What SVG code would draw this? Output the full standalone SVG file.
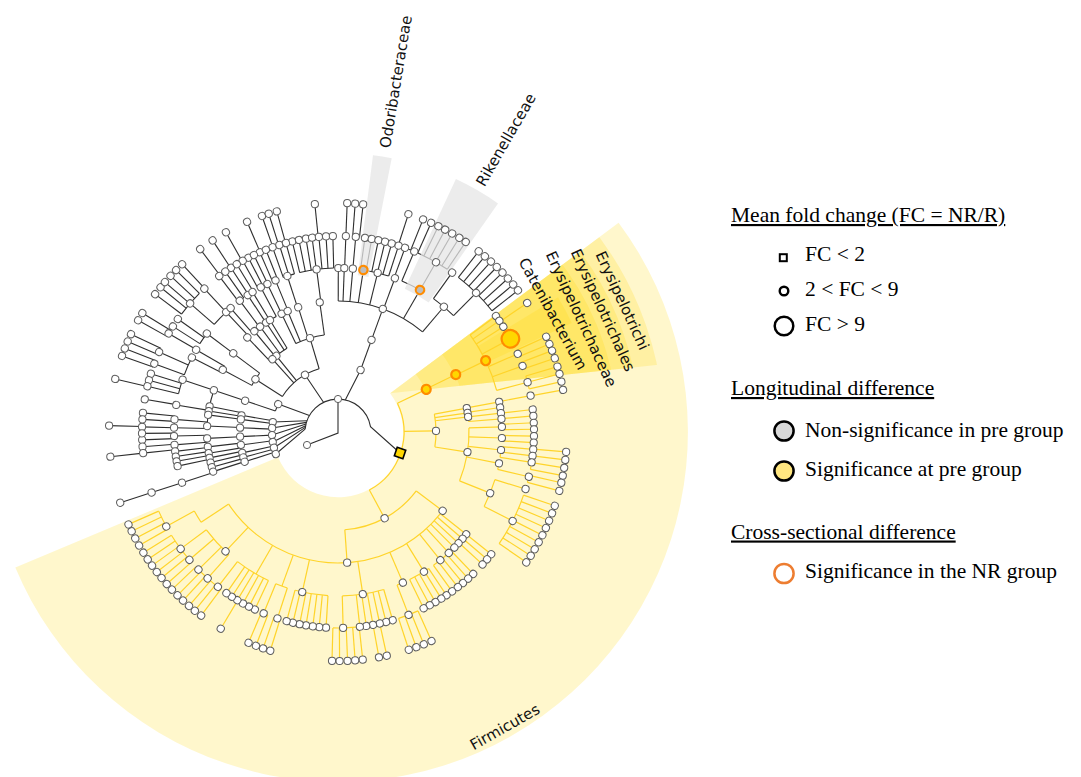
<svg xmlns="http://www.w3.org/2000/svg" width="1081" height="777" viewBox="0 0 1081 777">
<style>
.k{stroke:#2e2e2e;stroke-width:1.1;fill:none}
.y{stroke:#FFD42A;stroke-width:1.2;fill:none}
.nd{fill:#fff;stroke:#5e5e5e;stroke-width:1}
.lab{font-family:'DejaVu Sans',Verdana,sans-serif;font-size:15px;fill:#111}
.lg{font-family:'Liberation Serif','Times New Roman',serif;font-size:21.5px;fill:#000}
.sig{fill:#FFD700;stroke:#FF8C00;stroke-width:2.2}
.ns{fill:#BDBDBD;stroke:#FF8C00;stroke-width:2.2}
</style>
<defs>
<circle id="n1" cx="33" r="3.6"/><circle id="n2" cx="66" r="3.6"/><circle id="n3" cx="98" r="3.6"/><circle id="n4" cx="131" r="3.6"/><circle id="n5" cx="164" r="3.6"/><circle id="n6" cx="196" r="3.6"/><circle id="n7" cx="229" r="3.6"/>
<line id="l3" x1="66" x2="98"/><line id="l4" x1="98" x2="131"/><line id="l5" x1="131" x2="164"/><line id="l6" x1="164" x2="196"/><line id="l7" x1="196" x2="229"/>
<circle id="c2" r="66" pathLength="360" fill="none"/><circle id="c3" r="98" pathLength="360" fill="none"/><circle id="c4" r="131" pathLength="360" fill="none"/><circle id="c5" r="164" pathLength="360" fill="none"/><circle id="c6" r="196" pathLength="360" fill="none"/>
<clipPath id="ew"><polygon points="390.1,393.2 658.6,192.9 760,140 760,354.1"/></clipPath>
</defs>
<rect width="1081" height="777" fill="#fff"/>
<g id="backgrounds">
<path id="sector-firmicutes" d="M618.6,222.8A350,350 0 1 1 15.3,567.6L278.1,457.2A65,65 0 1 0 390.1,393.2Z" fill="#FFD700" fill-opacity=".2"/>
<g clip-path="url(#ew)"><g transform="translate(338,432)" fill="none" stroke="#FFD700" stroke-opacity=".2">
<circle r="195.5" stroke-width="261" pathLength="360" stroke-dasharray="35 360" transform="rotate(-40)"/>
<circle r="199.5" stroke-width="205" pathLength="360" stroke-dasharray="35 360" transform="rotate(-40)"/>
<circle r="205" stroke-width="150" pathLength="360" stroke-dasharray="35 360" transform="rotate(-40)"/>
<circle r="210.5" stroke-width="95" pathLength="360" stroke-dasharray="6.5 360" transform="rotate(-31.5)"/>
</g></g>
</g>
<g id="connectors">
<g class="k">
<path d="M305.1,429.1A33,33 0 0 1 370.5,426.6L400,453"/>
<path d="M345.4,399.8L360.6,370M323.5,402.3L305,374.8M309.4,415.5L278.2,404.1M307,420.7L272.8,422M306.4,422.4L272.1,428M306,424L272.1,435M305.6,425.7L272.8,442M305.3,427.4L273.9,447.7M305.1,429.1L275.8,454M338,399L338,433L307,445"/>
</g>
<g class="y" transform="translate(338,432)">
<use href="#c2" stroke-dasharray="87.4 360" transform="rotate(-25.8)"/>
<use href="#l3" transform="rotate(-25.8)"/><use href="#l3" transform="rotate(-0.6)"/><use href="#l3" transform="rotate(61.6)"/>
<use href="#c3" stroke-dasharray="19.3 360" transform="rotate(-10.5)"/><use href="#c3" stroke-dasharray="49 360" transform="rotate(37)"/>
<use href="#l4" transform="rotate(-26)"/><use href="#l4" transform="rotate(-10.5)"/><use href="#l4" transform="rotate(-8.4)"/><use href="#l4" transform="rotate(-6.6)"/><use href="#l4" transform="rotate(8.8)"/><use href="#l4" transform="rotate(37)"/><use href="#l4" transform="rotate(86)"/>
<use href="#c4" stroke-dasharray="2 360" transform="rotate(-6.6)"/><use href="#c4" stroke-dasharray="23.7 360" transform="rotate(-1.8)"/><use href="#c4" stroke-dasharray="108 360" transform="rotate(38.6)"/>
<use href="#l5" transform="rotate(-25.8)"/><use href="#l5" transform="rotate(-10.6)"/><use href="#l5" transform="rotate(-8.6)"/><use href="#l5" transform="rotate(-6.6)"/><use href="#l5" transform="rotate(-4.6)"/><use href="#l5" transform="rotate(-1.8)"/><use href="#l5" transform="rotate(2.1)"/><use href="#l5" transform="rotate(6.3)"/><use href="#l5" transform="rotate(11)"/><use href="#l5" transform="rotate(21.9)"/><use href="#l5" transform="rotate(38.6)"/><use href="#l5" transform="rotate(40.6)"/><use href="#l5" transform="rotate(42.7)"/><use href="#l5" transform="rotate(44.8)"/><use href="#l5" transform="rotate(47.5)"/><use href="#l5" transform="rotate(51.4)"/><use href="#l5" transform="rotate(58.4)"/><use href="#l5" transform="rotate(66.7)"/><use href="#l5" transform="rotate(81.3)"/><use href="#l5" transform="rotate(102.6)"/><use href="#l5" transform="rotate(110)"/><use href="#l5" transform="rotate(120)"/><use href="#l5" transform="rotate(133.3)"/><use href="#l5" transform="rotate(146.6)"/>
<use href="#c5" stroke-dasharray="21.6 360" transform="rotate(-36.3)"/><use href="#c5" stroke-dasharray="1.9 360" transform="rotate(-2.7)"/><use href="#c5" stroke-dasharray="1.9 360" transform="rotate(1.2)"/><use href="#c5" stroke-dasharray="3.8 360" transform="rotate(5.1)"/><use href="#c5" stroke-dasharray="2.2 360" transform="rotate(11)"/><use href="#c5" stroke-dasharray="10.1 360" transform="rotate(16.9)"/><use href="#c5" stroke-dasharray="8 360" transform="rotate(46.4)"/><use href="#c5" stroke-dasharray="7.7 360" transform="rotate(56.4)"/><use href="#c5" stroke-dasharray="2.2 360" transform="rotate(66.7)"/><use href="#c5" stroke-dasharray="14.7 360" transform="rotate(73.8)"/><use href="#c5" stroke-dasharray="11.7 360" transform="rotate(93.5)"/><use href="#c5" stroke-dasharray="4.3 360" transform="rotate(108)"/><use href="#c5" stroke-dasharray="12.7 360" transform="rotate(115.1)"/><use href="#c5" stroke-dasharray="11.7 360" transform="rotate(131.7)"/><use href="#c5" stroke-dasharray="4.6 360" transform="rotate(146.6)"/>
<use href="#l6" transform="rotate(-36.3)"/><use href="#l6" transform="rotate(-34.6)"/><use href="#l6" transform="rotate(-32.5)"/><use href="#l6" transform="rotate(-28.4)"/><use href="#l6" transform="rotate(-23.5)"/><use href="#l6" transform="rotate(-19.7)"/><use href="#l6" transform="rotate(-14.7)"/><use href="#l6" transform="rotate(-10.7)"/><use href="#l6" transform="rotate(-6.6)"/><use href="#l6" transform="rotate(-4.7)"/><use href="#l6" transform="rotate(-2.7)"/><use href="#l6" transform="rotate(-0.8)"/><use href="#l6" transform="rotate(1.2)"/><use href="#l6" transform="rotate(3.1)"/><use href="#l6" transform="rotate(5.1)"/><use href="#l6" transform="rotate(7)"/><use href="#l6" transform="rotate(8.9)"/><use href="#l6" transform="rotate(13.2)"/><use href="#l6" transform="rotate(16.9)"/><use href="#l6" transform="rotate(27)"/><use href="#l6" transform="rotate(38.6)"/><use href="#l6" transform="rotate(40.5)"/><use href="#l6" transform="rotate(42.5)"/><use href="#l6" transform="rotate(46.4)"/><use href="#l6" transform="rotate(48.4)"/><use href="#l6" transform="rotate(50.4)"/><use href="#l6" transform="rotate(52.3)"/><use href="#l6" transform="rotate(54.4)"/><use href="#l6" transform="rotate(56.4)"/><use href="#l6" transform="rotate(58.2)"/><use href="#l6" transform="rotate(60.2)"/><use href="#l6" transform="rotate(62.1)"/><use href="#l6" transform="rotate(64.1)"/><use href="#l6" transform="rotate(68.9)"/><use href="#l6" transform="rotate(73.8)"/><use href="#l6" transform="rotate(75.8)"/><use href="#l6" transform="rotate(77.7)"/><use href="#l6" transform="rotate(79.7)"/><use href="#l6" transform="rotate(81.7)"/><use href="#l6" transform="rotate(83.6)"/><use href="#l6" transform="rotate(88.5)"/><use href="#l6" transform="rotate(93.5)"/><use href="#l6" transform="rotate(95.5)"/><use href="#l6" transform="rotate(97.4)"/><use href="#l6" transform="rotate(99.4)"/><use href="#l6" transform="rotate(101.3)"/><use href="#l6" transform="rotate(103.3)"/><use href="#l6" transform="rotate(105.2)"/><use href="#l6" transform="rotate(108)"/><use href="#l6" transform="rotate(112.3)"/><use href="#l6" transform="rotate(115.1)"/><use href="#l6" transform="rotate(117)"/><use href="#l6" transform="rotate(119)"/><use href="#l6" transform="rotate(120.9)"/><use href="#l6" transform="rotate(122.8)"/><use href="#l6" transform="rotate(124.7)"/><use href="#l6" transform="rotate(127.8)"/><use href="#l6" transform="rotate(131.7)"/><use href="#l6" transform="rotate(135.4)"/><use href="#l6" transform="rotate(139.3)"/><use href="#l6" transform="rotate(143.4)"/><use href="#l6" transform="rotate(151.2)"/>
<use href="#c6" stroke-dasharray="2 360" transform="rotate(-24.6)"/><use href="#c6" stroke-dasharray="2 360" transform="rotate(-20.8)"/><use href="#c6" stroke-dasharray="3.9 360" transform="rotate(-16.6)"/><use href="#c6" stroke-dasharray="2.1 360" transform="rotate(8.9)"/><use href="#c6" stroke-dasharray="2.1 360" transform="rotate(12.8)"/><use href="#c6" stroke-dasharray="15.9 360" transform="rotate(18.8)"/><use href="#c6" stroke-dasharray="6.1 360" transform="rotate(65.9)"/><use href="#c6" stroke-dasharray="2 360" transform="rotate(77.7)"/><use href="#c6" stroke-dasharray="7.7 360" transform="rotate(83.8)"/><use href="#c6" stroke-dasharray="1.9 360" transform="rotate(107.2)"/><use href="#c6" stroke-dasharray="2 360" transform="rotate(111)"/><use href="#c6" stroke-dasharray="5 360" transform="rotate(126.7)"/><use href="#c6" stroke-dasharray="3.9 360" transform="rotate(132.5)"/><use href="#c6" stroke-dasharray="3.9 360" transform="rotate(138.4)"/><use href="#c6" stroke-dasharray="4.8 360" transform="rotate(143.4)"/><use href="#c6" stroke-dasharray="5.9 360" transform="rotate(150.3)"/>
<use href="#l7" transform="rotate(-34.3)"/><use href="#l7" transform="rotate(-24.6)"/><use href="#l7" transform="rotate(-22.6)"/><use href="#l7" transform="rotate(-20.8)"/><use href="#l7" transform="rotate(-18.8)"/><use href="#l7" transform="rotate(-16.6)"/><use href="#l7" transform="rotate(-14.7)"/><use href="#l7" transform="rotate(-12.7)"/><use href="#l7" transform="rotate(-10.6)"/><use href="#l7" transform="rotate(5)"/><use href="#l7" transform="rotate(7)"/><use href="#l7" transform="rotate(9)"/><use href="#l7" transform="rotate(11)"/><use href="#l7" transform="rotate(12.8)"/><use href="#l7" transform="rotate(14.9)"/><use href="#l7" transform="rotate(18.8)"/><use href="#l7" transform="rotate(20.8)"/><use href="#l7" transform="rotate(22.8)"/><use href="#l7" transform="rotate(24.8)"/><use href="#l7" transform="rotate(26.8)"/><use href="#l7" transform="rotate(28.8)"/><use href="#l7" transform="rotate(30.8)"/><use href="#l7" transform="rotate(32.7)"/><use href="#l7" transform="rotate(34.7)"/><use href="#l7" transform="rotate(65.9)"/><use href="#l7" transform="rotate(68)"/><use href="#l7" transform="rotate(70)"/><use href="#l7" transform="rotate(72)"/><use href="#l7" transform="rotate(77.7)"/><use href="#l7" transform="rotate(79.7)"/><use href="#l7" transform="rotate(83.8)"/><use href="#l7" transform="rotate(85.7)"/><use href="#l7" transform="rotate(87.6)"/><use href="#l7" transform="rotate(89.6)"/><use href="#l7" transform="rotate(91.5)"/><use href="#l7" transform="rotate(107.2)"/><use href="#l7" transform="rotate(109.1)"/><use href="#l7" transform="rotate(111)"/><use href="#l7" transform="rotate(113)"/><use href="#l7" transform="rotate(120.8)"/><use href="#l7" transform="rotate(126.7)"/><use href="#l7" transform="rotate(128.7)"/><use href="#l7" transform="rotate(130.6)"/><use href="#l7" transform="rotate(132.6)"/><use href="#l7" transform="rotate(134.5)"/><use href="#l7" transform="rotate(136.5)"/><use href="#l7" transform="rotate(138.4)"/><use href="#l7" transform="rotate(140.4)"/><use href="#l7" transform="rotate(142.3)"/><use href="#l7" transform="rotate(144.3)"/><use href="#l7" transform="rotate(146.2)"/><use href="#l7" transform="rotate(148.2)"/><use href="#l7" transform="rotate(150.3)"/><use href="#l7" transform="rotate(152.3)"/><use href="#l7" transform="rotate(154.3)"/><use href="#l7" transform="rotate(156.2)"/>
</g>
<g class="k" transform="translate(338,432)">
<use href="#l3" transform="rotate(290)"/><use href="#l4" transform="rotate(290)"/>
<use href="#c4" stroke-dasharray="40.1 360" transform="rotate(270.1)"/>
<use href="#l5" transform="rotate(270.1)"/><use href="#l5" transform="rotate(272.2)"/><use href="#l5" transform="rotate(275.2)"/><use href="#l5" transform="rotate(278.9)"/><use href="#l5" transform="rotate(284)"/><use href="#l5" transform="rotate(290.3)"/><use href="#l5" transform="rotate(300)"/><use href="#l5" transform="rotate(310.2)"/>
<use href="#c5" stroke-dasharray="1 360" transform="rotate(277.9)"/><use href="#c5" stroke-dasharray="8.1 360" transform="rotate(279.9)"/><use href="#c5" stroke-dasharray="7.1 360" transform="rotate(292.9)"/><use href="#c5" stroke-dasharray="9.2 360" transform="rotate(305.6)"/>
<use href="#l6" transform="rotate(272.3)"/><use href="#l6" transform="rotate(275.2)"/><use href="#l6" transform="rotate(277.9)"/><use href="#l6" transform="rotate(279.9)"/><use href="#l6" transform="rotate(281.9)"/><use href="#l6" transform="rotate(283.9)"/><use href="#l6" transform="rotate(285.9)"/><use href="#l6" transform="rotate(288)"/><use href="#l6" transform="rotate(290)"/><use href="#l6" transform="rotate(292.9)"/><use href="#l6" transform="rotate(300)"/><use href="#l6" transform="rotate(305.6)"/><use href="#l6" transform="rotate(314.8)"/>
<use href="#c6" stroke-dasharray="2 360" transform="rotate(274.3)"/><use href="#c6" stroke-dasharray="5 360" transform="rotate(287.9)"/><use href="#c6" stroke-dasharray="9.9 360" transform="rotate(294)"/><use href="#c6" stroke-dasharray="13.9 360" transform="rotate(307.9)"/>
<use href="#l7" transform="rotate(272.3)"/><use href="#l7" transform="rotate(274.3)"/><use href="#l7" transform="rotate(276.3)"/><use href="#l7" transform="rotate(287.9)"/><use href="#l7" transform="rotate(291.8)"/><use href="#l7" transform="rotate(294)"/><use href="#l7" transform="rotate(296)"/><use href="#l7" transform="rotate(297.9)"/><use href="#l7" transform="rotate(299.9)"/><use href="#l7" transform="rotate(302)"/><use href="#l7" transform="rotate(303.9)"/><use href="#l7" transform="rotate(307.9)"/><use href="#l7" transform="rotate(309.9)"/><use href="#l7" transform="rotate(311.9)"/><use href="#l7" transform="rotate(313.9)"/><use href="#l7" transform="rotate(315.9)"/><use href="#l7" transform="rotate(317.9)"/><use href="#l7" transform="rotate(319.9)"/><use href="#l7" transform="rotate(321.8)"/>
<use href="#c2" stroke-dasharray="40.8 360" transform="rotate(212.6)"/><use href="#c2" stroke-dasharray="6.4 360" transform="rotate(198.6)"/><use href="#c2" stroke-dasharray="2.4 360" transform="rotate(187.4)"/><use href="#c2" stroke-dasharray="1 360" transform="rotate(182.5)"/><use href="#c2" stroke-dasharray="1.1 360" transform="rotate(171.3)"/><use href="#c2" stroke-dasharray="1.5 360" transform="rotate(166.2)"/><use href="#c2" stroke-dasharray="4.5 360" transform="rotate(160.5)"/>
<use href="#l3" transform="rotate(212.6)"/><use href="#l3" transform="rotate(228)"/><use href="#l3" transform="rotate(231)"/><use href="#l3" transform="rotate(253.4)"/><use href="#l3" transform="rotate(198.6)"/><use href="#l3" transform="rotate(189.8)"/><use href="#l3" transform="rotate(187.4)"/><use href="#l3" transform="rotate(182.5)"/><use href="#l3" transform="rotate(177.3)"/><use href="#l3" transform="rotate(172.4)"/><use href="#l3" transform="rotate(167.7)"/><use href="#l3" transform="rotate(165)"/><use href="#l3" transform="rotate(162.3)"/>
<use href="#c3" stroke-dasharray="17.5 360" transform="rotate(244.5)"/><use href="#c3" stroke-dasharray="7.7 360" transform="rotate(231)"/><use href="#c3" stroke-dasharray="4.1 360" transform="rotate(226.2)"/><use href="#c3" stroke-dasharray="8.5 360" transform="rotate(208.4)"/><use href="#c3" stroke-dasharray="2.1 360" transform="rotate(189.2)"/><use href="#c3" stroke-dasharray="2.8 360" transform="rotate(170.7)"/><use href="#c3" stroke-dasharray="2.1 360" transform="rotate(166.5)"/>
<use href="#l4" transform="rotate(244.5)"/><use href="#l4" transform="rotate(247.4)"/><use href="#l4" transform="rotate(252.3)"/><use href="#l4" transform="rotate(262)"/><use href="#l4" transform="rotate(233.5)"/><use href="#l4" transform="rotate(236.7)"/><use href="#l4" transform="rotate(238.7)"/><use href="#l4" transform="rotate(226.2)"/><use href="#l4" transform="rotate(230.3)"/><use href="#l4" transform="rotate(208.4)"/><use href="#l4" transform="rotate(216.9)"/><use href="#l4" transform="rotate(198.6)"/><use href="#l4" transform="rotate(191.3)"/><use href="#l4" transform="rotate(189.2)"/><use href="#l4" transform="rotate(187.5)"/><use href="#l4" transform="rotate(182.6)"/><use href="#l4" transform="rotate(177.2)"/><use href="#l4" transform="rotate(173.5)"/><use href="#l4" transform="rotate(170.7)"/><use href="#l4" transform="rotate(168.6)"/><use href="#l4" transform="rotate(166.5)"/><use href="#l4" transform="rotate(164.4)"/><use href="#l4" transform="rotate(162.4)"/>
<use href="#c4" stroke-dasharray="3.2 360" transform="rotate(238.7)"/><use href="#c4" stroke-dasharray="2.1 360" transform="rotate(236.6)"/><use href="#c4" stroke-dasharray="0.8 360" transform="rotate(226.2)"/><use href="#c4" stroke-dasharray="1.2 360" transform="rotate(229.1)"/><use href="#c4" stroke-dasharray="3.1 360" transform="rotate(207)"/><use href="#c4" stroke-dasharray="9.1 360" transform="rotate(189.5)"/><use href="#c4" stroke-dasharray="3.1 360" transform="rotate(184.4)"/><use href="#c4" stroke-dasharray="1.1 360" transform="rotate(181.5)"/><use href="#c4" stroke-dasharray="3.1 360" transform="rotate(175.5)"/><use href="#c4" stroke-dasharray="0.7 360" transform="rotate(170.7)"/><use href="#c4" stroke-dasharray="1.1 360" transform="rotate(168.6)"/><use href="#c4" stroke-dasharray="1.5 360" transform="rotate(166.5)"/>
<use href="#l5" transform="rotate(262.5)"/><use href="#l5" transform="rotate(252)"/><use href="#l5" transform="rotate(247.6)"/><use href="#l5" transform="rotate(244.5)"/><use href="#l5" transform="rotate(241.9)"/><use href="#l5" transform="rotate(236.6)"/><use href="#l5" transform="rotate(238.6)"/><use href="#l5" transform="rotate(233.2)"/><use href="#l5" transform="rotate(227)"/><use href="#l5" transform="rotate(229.1)"/><use href="#l5" transform="rotate(216.9)"/><use href="#l5" transform="rotate(207)"/><use href="#l5" transform="rotate(210.1)"/><use href="#l5" transform="rotate(198.6)"/><use href="#l5" transform="rotate(189.5)"/><use href="#l5" transform="rotate(184.4)"/><use href="#l5" transform="rotate(181.5)"/><use href="#l5" transform="rotate(178.6)"/><use href="#l5" transform="rotate(175.5)"/><use href="#l5" transform="rotate(173.2)"/><use href="#l5" transform="rotate(171.4)"/><use href="#l5" transform="rotate(169.7)"/><use href="#l5" transform="rotate(168)"/><use href="#l5" transform="rotate(162)"/>
<use href="#c5" stroke-dasharray="12 360" transform="rotate(256.5)"/><use href="#c5" stroke-dasharray="4.1 360" transform="rotate(250.5)"/><use href="#c5" stroke-dasharray="1.9 360" transform="rotate(246.5)"/><use href="#c5" stroke-dasharray="1.8 360" transform="rotate(242.8)"/><use href="#c5" stroke-dasharray="1 360" transform="rotate(240.9)"/><use href="#c5" stroke-dasharray="2.2 360" transform="rotate(232.7)"/><use href="#c5" stroke-dasharray="6 360" transform="rotate(221)"/><use href="#c5" stroke-dasharray="4.3 360" transform="rotate(212.6)"/><use href="#c5" stroke-dasharray="6.6 360" transform="rotate(200.4)"/><use href="#c5" stroke-dasharray="5.1 360" transform="rotate(193.5)"/><use href="#c5" stroke-dasharray="1.2 360" transform="rotate(184.4)"/><use href="#c5" stroke-dasharray="2.2 360" transform="rotate(181.5)"/><use href="#c5" stroke-dasharray="1.9 360" transform="rotate(177.7)"/><use href="#c5" stroke-dasharray="0.6 360" transform="rotate(173.2)"/>
<use href="#l6" transform="rotate(256.5)"/><use href="#l6" transform="rotate(258.5)"/><use href="#l6" transform="rotate(260.6)"/><use href="#l6" transform="rotate(262.4)"/><use href="#l6" transform="rotate(264.4)"/><use href="#l6" transform="rotate(266.5)"/><use href="#l6" transform="rotate(268.5)"/><use href="#l6" transform="rotate(250.5)"/><use href="#l6" transform="rotate(252.6)"/><use href="#l6" transform="rotate(254.6)"/><use href="#l6" transform="rotate(246.5)"/><use href="#l6" transform="rotate(248.4)"/><use href="#l6" transform="rotate(242.8)"/><use href="#l6" transform="rotate(244.6)"/><use href="#l6" transform="rotate(240.9)"/><use href="#l6" transform="rotate(236.9)"/><use href="#l6" transform="rotate(238.9)"/><use href="#l6" transform="rotate(232.7)"/><use href="#l6" transform="rotate(234.9)"/><use href="#l6" transform="rotate(227)"/><use href="#l6" transform="rotate(221)"/><use href="#l6" transform="rotate(215.2)"/><use href="#l6" transform="rotate(212.6)"/><use href="#l6" transform="rotate(210.2)"/><use href="#l6" transform="rotate(204.1)"/><use href="#l6" transform="rotate(200.4)"/><use href="#l6" transform="rotate(197.3)"/><use href="#l6" transform="rotate(195.3)"/><use href="#l6" transform="rotate(193.5)"/><use href="#l6" transform="rotate(189.6)"/><use href="#l6" transform="rotate(185.6)"/><use href="#l6" transform="rotate(181.5)"/><use href="#l6" transform="rotate(183.7)"/><use href="#l6" transform="rotate(177.7)"/><use href="#l6" transform="rotate(179.6)"/><use href="#l6" transform="rotate(175.7)"/><use href="#l6" transform="rotate(173.8)"/><use href="#l6" transform="rotate(162)"/>
<use href="#c6" stroke-dasharray="8 360" transform="rotate(217)"/><use href="#c6" stroke-dasharray="3.4 360" transform="rotate(209.2)"/><use href="#c6" stroke-dasharray="2 360" transform="rotate(203.3)"/><use href="#c6" stroke-dasharray="2 360" transform="rotate(199.4)"/>
<use href="#l7" transform="rotate(264.2)"/><use href="#l7" transform="rotate(250.6)"/><use href="#l7" transform="rotate(252.4)"/><use href="#l7" transform="rotate(254.5)"/><use href="#l7" transform="rotate(246.6)"/><use href="#l7" transform="rotate(240.7)"/><use href="#l7" transform="rotate(236.8)"/><use href="#l7" transform="rotate(233)"/><use href="#l7" transform="rotate(227.1)"/><use href="#l7" transform="rotate(217)"/><use href="#l7" transform="rotate(219.2)"/><use href="#l7" transform="rotate(220.9)"/><use href="#l7" transform="rotate(223)"/><use href="#l7" transform="rotate(225)"/><use href="#l7" transform="rotate(211.3)"/><use href="#l7" transform="rotate(209.2)"/><use href="#l7" transform="rotate(205.3)"/><use href="#l7" transform="rotate(203.3)"/><use href="#l7" transform="rotate(201.4)"/><use href="#l7" transform="rotate(199.4)"/><use href="#l7" transform="rotate(193.4)"/><use href="#l7" transform="rotate(181.6)"/><use href="#l7" transform="rotate(173.8)"/><use href="#l7" transform="rotate(162)"/>
</g>
</g>
<g id="highlights-gray" fill="#E6E6E6" fill-opacity=".75">
<path id="band-odoribacteraceae" d="M373,155.2A279,279 0 0 1 391.7,158.2L368.4,277A158,158 0 0 0 357.8,275.2Z"/>
<path id="band-rikenellaceae" d="M455.9,179.1A279,279 0 0 1 498,203.4L428.6,302.6A158,158 0 0 0 404.8,288.8Z"/>
</g>
<g id="nodes" class="nd" transform="translate(338,432)">
<g id="root"><use href="#n1" transform="rotate(270)"/><circle cx="-31" cy="13" r="3.6"/></g>
<g id="phyla"><use href="#n2" transform="rotate(290)"/><use href="#n2" transform="rotate(240)"/><use href="#n2" transform="rotate(205)"/><use href="#n2" transform="rotate(188.7)"/><use href="#n2" transform="rotate(183.5)"/><use href="#n2" transform="rotate(177.4)"/><use href="#n2" transform="rotate(171.3)"/><use href="#n2" transform="rotate(166.2)"/><use href="#n2" transform="rotate(160.5)"/></g>
<g id="classes"><use href="#n3" transform="rotate(-0.6)"/><use href="#n3" transform="rotate(61.6)"/><use href="#n3" transform="rotate(290)"/><use href="#n3" transform="rotate(253.4)"/><use href="#n3" transform="rotate(231)"/><use href="#n3" transform="rotate(228)"/><use href="#n3" transform="rotate(212.6)"/><use href="#n3" transform="rotate(198.6)"/><use href="#n3" transform="rotate(189.8)"/><use href="#n3" transform="rotate(187.4)"/><use href="#n3" transform="rotate(182.5)"/><use href="#n3" transform="rotate(177.3)"/><use href="#n3" transform="rotate(172.4)"/><use href="#n3" transform="rotate(167.7)"/><use href="#n3" transform="rotate(165)"/><use href="#n3" transform="rotate(162.3)"/></g>
<g id="orders"><use href="#n4" transform="rotate(-10.5)"/><use href="#n4" transform="rotate(-8.4)"/><use href="#n4" transform="rotate(-6.6)"/><use href="#n4" transform="rotate(8.8)"/><use href="#n4" transform="rotate(37)"/><use href="#n4" transform="rotate(86)"/><use href="#n4" transform="rotate(290)"/><use href="#n4" transform="rotate(244.5)"/><use href="#n4" transform="rotate(247.4)"/><use href="#n4" transform="rotate(252.3)"/><use href="#n4" transform="rotate(262)"/><use href="#n4" transform="rotate(233.5)"/><use href="#n4" transform="rotate(236.7)"/><use href="#n4" transform="rotate(238.7)"/><use href="#n4" transform="rotate(226.2)"/><use href="#n4" transform="rotate(230.3)"/><use href="#n4" transform="rotate(208.4)"/><use href="#n4" transform="rotate(216.9)"/><use href="#n4" transform="rotate(198.6)"/><use href="#n4" transform="rotate(191.3)"/><use href="#n4" transform="rotate(189.2)"/><use href="#n4" transform="rotate(187.5)"/><use href="#n4" transform="rotate(182.6)"/><use href="#n4" transform="rotate(177.2)"/><use href="#n4" transform="rotate(173.5)"/><use href="#n4" transform="rotate(170.7)"/><use href="#n4" transform="rotate(168.6)"/><use href="#n4" transform="rotate(166.5)"/><use href="#n4" transform="rotate(164.4)"/><use href="#n4" transform="rotate(162.4)"/></g>
<g id="families"><use href="#n5" transform="rotate(-10.6)"/><use href="#n5" transform="rotate(-8.6)"/><use href="#n5" transform="rotate(-6.6)"/><use href="#n5" transform="rotate(-4.6)"/><use href="#n5" transform="rotate(-1.8)"/><use href="#n5" transform="rotate(2.1)"/><use href="#n5" transform="rotate(6.3)"/><use href="#n5" transform="rotate(11)"/><use href="#n5" transform="rotate(21.9)"/><use href="#n5" transform="rotate(38.6)"/><use href="#n5" transform="rotate(40.6)"/><use href="#n5" transform="rotate(42.7)"/><use href="#n5" transform="rotate(44.8)"/><use href="#n5" transform="rotate(47.5)"/><use href="#n5" transform="rotate(51.4)"/><use href="#n5" transform="rotate(58.4)"/><use href="#n5" transform="rotate(66.7)"/><use href="#n5" transform="rotate(81.3)"/><use href="#n5" transform="rotate(102.6)"/><use href="#n5" transform="rotate(133.3)"/><use href="#n5" transform="rotate(270.1)"/><use href="#n5" transform="rotate(272.2)"/><use href="#n5" transform="rotate(275.2)"/><use href="#n5" transform="rotate(284)"/><use href="#n5" transform="rotate(290.3)"/><use href="#n5" transform="rotate(310.2)"/><use href="#n5" transform="rotate(262.5)"/><use href="#n5" transform="rotate(252)"/><use href="#n5" transform="rotate(247.6)"/><use href="#n5" transform="rotate(244.5)"/><use href="#n5" transform="rotate(241.9)"/><use href="#n5" transform="rotate(236.6)"/><use href="#n5" transform="rotate(238.6)"/><use href="#n5" transform="rotate(233.2)"/><use href="#n5" transform="rotate(227)"/><use href="#n5" transform="rotate(229.1)"/><use href="#n5" transform="rotate(216.9)"/><use href="#n5" transform="rotate(207)"/><use href="#n5" transform="rotate(210.1)"/><use href="#n5" transform="rotate(198.6)"/><use href="#n5" transform="rotate(189.5)"/><use href="#n5" transform="rotate(184.4)"/><use href="#n5" transform="rotate(181.5)"/><use href="#n5" transform="rotate(178.6)"/><use href="#n5" transform="rotate(175.5)"/><use href="#n5" transform="rotate(173.2)"/><use href="#n5" transform="rotate(171.4)"/><use href="#n5" transform="rotate(169.7)"/><use href="#n5" transform="rotate(168)"/><use href="#n5" transform="rotate(162)"/></g>
<g id="genera"><use href="#n6" transform="rotate(-36.3)"/><use href="#n6" transform="rotate(-34.6)"/><use href="#n6" transform="rotate(-32.5)"/><use href="#n6" transform="rotate(-23.5)"/><use href="#n6" transform="rotate(-19.7)"/><use href="#n6" transform="rotate(-14.7)"/><use href="#n6" transform="rotate(-10.7)"/><use href="#n6" transform="rotate(-6.6)"/><use href="#n6" transform="rotate(-4.7)"/><use href="#n6" transform="rotate(-2.7)"/><use href="#n6" transform="rotate(-0.8)"/><use href="#n6" transform="rotate(1.2)"/><use href="#n6" transform="rotate(3.1)"/><use href="#n6" transform="rotate(5.1)"/><use href="#n6" transform="rotate(7)"/><use href="#n6" transform="rotate(8.9)"/><use href="#n6" transform="rotate(13.2)"/><use href="#n6" transform="rotate(16.9)"/><use href="#n6" transform="rotate(27)"/><use href="#n6" transform="rotate(38.6)"/><use href="#n6" transform="rotate(40.5)"/><use href="#n6" transform="rotate(42.5)"/><use href="#n6" transform="rotate(46.4)"/><use href="#n6" transform="rotate(48.4)"/><use href="#n6" transform="rotate(50.4)"/><use href="#n6" transform="rotate(52.3)"/><use href="#n6" transform="rotate(54.4)"/><use href="#n6" transform="rotate(56.4)"/><use href="#n6" transform="rotate(58.2)"/><use href="#n6" transform="rotate(60.2)"/><use href="#n6" transform="rotate(62.1)"/><use href="#n6" transform="rotate(64.1)"/><use href="#n6" transform="rotate(68.9)"/><use href="#n6" transform="rotate(73.8)"/><use href="#n6" transform="rotate(75.8)"/><use href="#n6" transform="rotate(77.7)"/><use href="#n6" transform="rotate(79.7)"/><use href="#n6" transform="rotate(81.7)"/><use href="#n6" transform="rotate(83.6)"/><use href="#n6" transform="rotate(88.5)"/><use href="#n6" transform="rotate(93.5)"/><use href="#n6" transform="rotate(95.5)"/><use href="#n6" transform="rotate(97.4)"/><use href="#n6" transform="rotate(99.4)"/><use href="#n6" transform="rotate(101.3)"/><use href="#n6" transform="rotate(103.3)"/><use href="#n6" transform="rotate(105.2)"/><use href="#n6" transform="rotate(108)"/><use href="#n6" transform="rotate(112.3)"/><use href="#n6" transform="rotate(115.1)"/><use href="#n6" transform="rotate(117)"/><use href="#n6" transform="rotate(119)"/><use href="#n6" transform="rotate(120.9)"/><use href="#n6" transform="rotate(122.8)"/><use href="#n6" transform="rotate(124.7)"/><use href="#n6" transform="rotate(127.8)"/><use href="#n6" transform="rotate(131.7)"/><use href="#n6" transform="rotate(135.4)"/><use href="#n6" transform="rotate(139.3)"/><use href="#n6" transform="rotate(143.4)"/><use href="#n6" transform="rotate(151.2)"/><use href="#n6" transform="rotate(272.3)"/><use href="#n6" transform="rotate(275.2)"/><use href="#n6" transform="rotate(277.9)"/><use href="#n6" transform="rotate(279.9)"/><use href="#n6" transform="rotate(281.9)"/><use href="#n6" transform="rotate(283.9)"/><use href="#n6" transform="rotate(285.9)"/><use href="#n6" transform="rotate(288)"/><use href="#n6" transform="rotate(290)"/><use href="#n6" transform="rotate(292.9)"/><use href="#n6" transform="rotate(300)"/><use href="#n6" transform="rotate(305.6)"/><use href="#n6" transform="rotate(314.8)"/><use href="#n6" transform="rotate(256.5)"/><use href="#n6" transform="rotate(258.5)"/><use href="#n6" transform="rotate(260.6)"/><use href="#n6" transform="rotate(262.4)"/><use href="#n6" transform="rotate(264.4)"/><use href="#n6" transform="rotate(266.5)"/><use href="#n6" transform="rotate(268.5)"/><use href="#n6" transform="rotate(250.5)"/><use href="#n6" transform="rotate(252.6)"/><use href="#n6" transform="rotate(254.6)"/><use href="#n6" transform="rotate(246.5)"/><use href="#n6" transform="rotate(248.4)"/><use href="#n6" transform="rotate(242.8)"/><use href="#n6" transform="rotate(244.6)"/><use href="#n6" transform="rotate(240.9)"/><use href="#n6" transform="rotate(236.9)"/><use href="#n6" transform="rotate(238.9)"/><use href="#n6" transform="rotate(232.7)"/><use href="#n6" transform="rotate(234.9)"/><use href="#n6" transform="rotate(227)"/><use href="#n6" transform="rotate(221)"/><use href="#n6" transform="rotate(215.2)"/><use href="#n6" transform="rotate(212.6)"/><use href="#n6" transform="rotate(210.2)"/><use href="#n6" transform="rotate(204.1)"/><use href="#n6" transform="rotate(200.4)"/><use href="#n6" transform="rotate(197.3)"/><use href="#n6" transform="rotate(195.3)"/><use href="#n6" transform="rotate(193.5)"/><use href="#n6" transform="rotate(189.6)"/><use href="#n6" transform="rotate(185.6)"/><use href="#n6" transform="rotate(181.5)"/><use href="#n6" transform="rotate(183.7)"/><use href="#n6" transform="rotate(177.7)"/><use href="#n6" transform="rotate(179.6)"/><use href="#n6" transform="rotate(175.7)"/><use href="#n6" transform="rotate(173.8)"/><use href="#n6" transform="rotate(162)"/></g>
<g id="species"><use href="#n7" transform="rotate(-34.3)"/><use href="#n7" transform="rotate(-24.6)"/><use href="#n7" transform="rotate(-22.6)"/><use href="#n7" transform="rotate(-20.8)"/><use href="#n7" transform="rotate(-18.8)"/><use href="#n7" transform="rotate(-16.6)"/><use href="#n7" transform="rotate(-14.7)"/><use href="#n7" transform="rotate(-12.7)"/><use href="#n7" transform="rotate(-10.6)"/><use href="#n7" transform="rotate(5)"/><use href="#n7" transform="rotate(7)"/><use href="#n7" transform="rotate(9)"/><use href="#n7" transform="rotate(11)"/><use href="#n7" transform="rotate(12.8)"/><use href="#n7" transform="rotate(14.9)"/><use href="#n7" transform="rotate(18.8)"/><use href="#n7" transform="rotate(20.8)"/><use href="#n7" transform="rotate(22.8)"/><use href="#n7" transform="rotate(24.8)"/><use href="#n7" transform="rotate(26.8)"/><use href="#n7" transform="rotate(28.8)"/><use href="#n7" transform="rotate(30.8)"/><use href="#n7" transform="rotate(32.7)"/><use href="#n7" transform="rotate(34.7)"/><use href="#n7" transform="rotate(65.9)"/><use href="#n7" transform="rotate(68)"/><use href="#n7" transform="rotate(70)"/><use href="#n7" transform="rotate(72)"/><use href="#n7" transform="rotate(77.7)"/><use href="#n7" transform="rotate(79.7)"/><use href="#n7" transform="rotate(83.8)"/><use href="#n7" transform="rotate(85.7)"/><use href="#n7" transform="rotate(87.6)"/><use href="#n7" transform="rotate(89.6)"/><use href="#n7" transform="rotate(91.5)"/><use href="#n7" transform="rotate(107.2)"/><use href="#n7" transform="rotate(109.1)"/><use href="#n7" transform="rotate(111)"/><use href="#n7" transform="rotate(113)"/><use href="#n7" transform="rotate(120.8)"/><use href="#n7" transform="rotate(126.7)"/><use href="#n7" transform="rotate(128.7)"/><use href="#n7" transform="rotate(130.6)"/><use href="#n7" transform="rotate(132.6)"/><use href="#n7" transform="rotate(134.5)"/><use href="#n7" transform="rotate(136.5)"/><use href="#n7" transform="rotate(138.4)"/><use href="#n7" transform="rotate(140.4)"/><use href="#n7" transform="rotate(142.3)"/><use href="#n7" transform="rotate(144.3)"/><use href="#n7" transform="rotate(146.2)"/><use href="#n7" transform="rotate(148.2)"/><use href="#n7" transform="rotate(150.3)"/><use href="#n7" transform="rotate(152.3)"/><use href="#n7" transform="rotate(154.3)"/><use href="#n7" transform="rotate(156.2)"/><use href="#n7" transform="rotate(272.3)"/><use href="#n7" transform="rotate(274.3)"/><use href="#n7" transform="rotate(276.3)"/><use href="#n7" transform="rotate(287.9)"/><use href="#n7" transform="rotate(291.8)"/><use href="#n7" transform="rotate(294)"/><use href="#n7" transform="rotate(296)"/><use href="#n7" transform="rotate(297.9)"/><use href="#n7" transform="rotate(299.9)"/><use href="#n7" transform="rotate(302)"/><use href="#n7" transform="rotate(303.9)"/><use href="#n7" transform="rotate(307.9)"/><use href="#n7" transform="rotate(309.9)"/><use href="#n7" transform="rotate(311.9)"/><use href="#n7" transform="rotate(313.9)"/><use href="#n7" transform="rotate(315.9)"/><use href="#n7" transform="rotate(317.9)"/><use href="#n7" transform="rotate(319.9)"/><use href="#n7" transform="rotate(321.8)"/><use href="#n7" transform="rotate(264.2)"/><use href="#n7" transform="rotate(250.6)"/><use href="#n7" transform="rotate(252.4)"/><use href="#n7" transform="rotate(254.5)"/><use href="#n7" transform="rotate(246.6)"/><use href="#n7" transform="rotate(240.7)"/><use href="#n7" transform="rotate(236.8)"/><use href="#n7" transform="rotate(233)"/><use href="#n7" transform="rotate(227.1)"/><use href="#n7" transform="rotate(217)"/><use href="#n7" transform="rotate(219.2)"/><use href="#n7" transform="rotate(220.9)"/><use href="#n7" transform="rotate(223)"/><use href="#n7" transform="rotate(225)"/><use href="#n7" transform="rotate(211.3)"/><use href="#n7" transform="rotate(209.2)"/><use href="#n7" transform="rotate(205.3)"/><use href="#n7" transform="rotate(203.3)"/><use href="#n7" transform="rotate(201.4)"/><use href="#n7" transform="rotate(199.4)"/><use href="#n7" transform="rotate(193.4)"/><use href="#n7" transform="rotate(181.6)"/><use href="#n7" transform="rotate(173.8)"/><use href="#n7" transform="rotate(162)"/></g>
<g id="node-firmicutes"><rect x="61" y="-4.5" width="9" height="9" fill="#FFD700" stroke="#000" stroke-width="1.6" transform="rotate(18.7)"/></g>
<g id="node-erysipelotrichi"><circle class="sig" cx="98" r="4.5" transform="rotate(-25.8)"/></g>
<g id="node-erysipelotrichales"><circle class="sig" cx="131" r="4.5" transform="rotate(-26)"/></g>
<g id="node-erysipelotrichaceae"><circle class="sig" cx="164" r="4.5" transform="rotate(-25.8)"/></g>
<g id="node-catenibacterium"><circle class="sig" cx="196" r="8.8" stroke-width="2.6" transform="rotate(-28.4)"/></g>
<g id="node-odoribacteraceae"><circle class="ns" cx="164" r="4.2" transform="rotate(278.9)"/></g>
<g id="node-rikenellaceae"><circle class="ns" cx="164" r="4.2" transform="rotate(300)"/></g>
</g>
<g id="clade-labels" class="lab" transform="translate(338,432)">
<text transform="rotate(279.4) translate(288,0)" dominant-baseline="central">Odoribacteraceae</text>
<text transform="rotate(299.9) translate(285,0)" dominant-baseline="central">Rikenellaceae</text>
<text transform="rotate(-24.8) translate(313,0) rotate(90)" text-anchor="middle" dominant-baseline="central">Erysipelotrichi</text>
<text transform="rotate(-24.7) translate(291.5,0) rotate(90)" text-anchor="middle" dominant-baseline="central">Erysipelotrichales</text>
<text transform="rotate(-24.9) translate(268,0) rotate(90)" text-anchor="middle" dominant-baseline="central">Erysipelotrichaceae</text>
<text transform="rotate(-28.8) translate(245,0) rotate(90)" text-anchor="middle" dominant-baseline="central">Catenibacterium</text>
<text transform="rotate(60.5) translate(339,0) rotate(-90)" text-anchor="middle" dominant-baseline="central">Firmicutes</text>
</g>
<g id="legend" class="lg">
<g id="legend-fc">
<text x="731" y="222" text-decoration="underline">Mean fold change (FC = NR/R)</text>
<rect x="779.8" y="254.2" width="7" height="7" fill="#fff" stroke="#000" stroke-width="2"/>
<text x="805" y="261">FC &lt; 2</text>
<circle cx="784" cy="291" r="4.3" fill="#fff" stroke="#000" stroke-width="2.4"/>
<text x="805" y="296">2 &lt; FC &lt; 9</text>
<circle cx="784" cy="326" r="9.3" fill="#fff" stroke="#000" stroke-width="2.5"/>
<text x="805" y="331">FC &gt; 9</text>
</g>
<g id="legend-long">
<text x="731" y="395" text-decoration="underline">Longitudinal difference</text>
<circle cx="784" cy="431" r="9.6" fill="#D9D9D9" stroke="#000" stroke-width="2.5"/>
<text x="805" y="436.5">Non-significance in pre group</text>
<circle cx="784" cy="471" r="9.6" fill="#FFE680" stroke="#000" stroke-width="2.5"/>
<text x="805" y="475.5">Significance at pre group</text>
</g>
<g id="legend-cross">
<text x="731" y="538.5" text-decoration="underline">Cross-sectional difference</text>
<circle cx="784" cy="573.5" r="9.6" fill="#fff" stroke="#ED7D31" stroke-width="2.5"/>
<text x="805" y="578">Significance in the NR group</text>
</g>
</g>
</svg>
